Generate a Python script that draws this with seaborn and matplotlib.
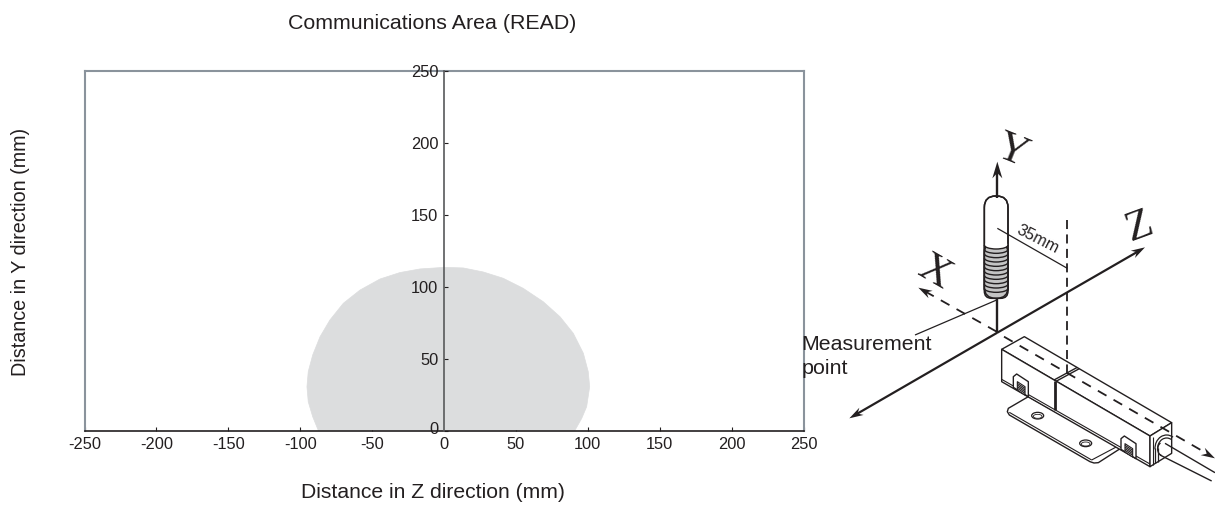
import math
import matplotlib
matplotlib.use("Agg")
import matplotlib.pyplot as plt
from matplotlib.patches import Polygon, Ellipse, FancyBboxPatch, Arc
from matplotlib.transforms import ScaledTranslation
import seaborn as sns
import pandas as pd

# communications area outline
area_z = [-87.4, -91.3, -94.4, -95.3, -94.4, -91.3, -86.2, -79.3, -70, -58.4, -44.5, -30.6, -16.7, 0,
          13.4, 27.3, 41.2, 55.1, 69, 80.7, 89.9, 96.9, 100.3, 101.3, 99.2, 95.8, 91]
area_y = [0, 9.6, 20, 30.5, 41, 52.6, 65.3, 77, 88.6, 97.8, 105.5, 110, 112.5, 113.6,
          113.2, 110.4, 106, 99, 89.7, 79.2, 67.7, 53.8, 41, 30.5, 16.6, 8.5, 0]
x_ticks = [-250, -200, -150, -100, -50, 0, 50, 100, 150, 200, 250]
y_ticks = [0, 50, 100, 150, 200, 250]

title = "Communications Area (READ)"
x_label = "Distance in Z direction (mm)"
y_label = "Distance in Y direction (mm)"

W, H = 1215, 511
FONT = 15.4
TICK_FONT = 11.8
DARK = "#231f20"
FRAME = "#8a939c"
FILL = "#dcddde"

sns.set_theme(style="white")
plt.rcParams['font.family'] = ['Liberation Sans', 'DejaVu Sans']

df = pd.DataFrame({'z': area_z, 'y': area_y})

fig = plt.figure(figsize=(W / 100, H / 100), dpi=100)
ax = fig.add_axes([84.5 / W, 1 - 430.5 / H, 719 / W, 359 / H])

ax.fill(df['z'], df['y'], color=FILL, lw=0)
sns.lineplot(data=df, x='z', y='y', sort=False, estimator=None, color=FILL, lw=0.5, ax=ax)
ax.set_xlim(-250, 250)
ax.set_ylim(0, 250)

for side in ['top', 'left', 'right']:
    ax.spines[side].set_color(FRAME)
    ax.spines[side].set_linewidth(1.5)
ax.spines['bottom'].set_color(DARK)
ax.spines['bottom'].set_linewidth(1.2)

ax.set_xticks(x_ticks)
ax.set_xticklabels([str(v) for v in x_ticks])
ax.set_yticks([])
ax.tick_params(axis='x', bottom=True, direction='in', length=3, width=0.8, color=DARK,
               labelsize=TICK_FONT, labelcolor=DARK, pad=5)

# y axis sits in the middle of the frame
center = ax.secondary_yaxis(0.5)
center.set_zorder(5)
center.yaxis.set_ticks_position('left')
center.yaxis.set_label_position('left')
center.set_yticks(y_ticks)
center.set_yticklabels([str(v) for v in y_ticks])
center.spines['left'].set_visible(True)
center.spines['right'].set_visible(False)
center.spines['left'].set_color("#58595b")
center.spines['left'].set_linewidth(1.2)
center.tick_params(axis='y', left=True, right=False, labelleft=True, labelright=False, direction='in',
                   length=3, width=0.8, color=DARK, labelsize=TICK_FONT, labelcolor=DARK, pad=4)
zero_label = center.get_yticklabels()[0]
zero_label.set_transform(zero_label.get_transform() + ScaledTranslation(0, 2 / 72, fig.dpi_scale_trans))

ax.set_xlabel(x_label, fontsize=15.2, color=DARK, va='center')
ax.xaxis.set_label_coords((432.5 - 84.5) / 719, -(492.5 - 430.5) / 359, transform=ax.transAxes)
ax.set_ylabel(y_label, fontsize=14.2, color=DARK, va='center')
ax.yaxis.set_label_coords(-(84.5 - 21) / 719, (430.5 - 251.5) / 359, transform=ax.transAxes)
fig.text(432 / W, 1 - 23 / H, title, fontsize=FONT, color=DARK, ha='center', va='center')

# sketch of the sensor on the right, in its own overlay axes
sk = fig.add_axes([800 / W, 0, 415 / W, 391 / H], facecolor='none')
sk.set_xlim(0, 1245)
sk.set_ylim(1173, 0)
sk.axis('off')


def line(xs, ys, lw=1.0, ls='-', z=3):
    sk.plot(xs, ys, color=DARK, lw=lw, ls=ls, zorder=z, solid_capstyle='butt', dash_capstyle='butt')


def head(x0, y0, x1, y1, size=38):
    # swept back arrow head at (x1, y1), coming from (x0, y0)
    a = math.atan2(y1 - y0, x1 - x0)
    ux, uy = math.cos(a), math.sin(a)
    px, py = -uy, ux
    pts = [(x1, y1),
           (x1 - size * ux + 0.3 * size * px, y1 - size * uy + 0.3 * size * py),
           (x1 - 0.68 * size * ux, y1 - 0.68 * size * uy),
           (x1 - size * ux - 0.3 * size * px, y1 - size * uy - 0.3 * size * py)]
    sk.add_patch(Polygon(pts, fc=DARK, ec='none', zorder=7))


def shape(pts, lw=1.0, fc='white', z=2):
    sk.add_patch(Polygon(pts, fc=fc, ec=DARK, lw=lw, zorder=z, joinstyle='round'))


# mounting plate
shape([(685, 830), (625, 865), (622, 875), (628, 885), (870, 1025), (882, 1029), (895, 1028), (962, 985)], z=1)
line([628, 875], [877, 1020], lw=0.8, z=1)
line([875, 960], [1020, 975], lw=0.8, z=1)
for hx, hy in [(713, 887), (857, 970)]:
    sk.add_patch(Ellipse((hx, hy), 36, 20, fc='white', ec=DARK, lw=0.9, zorder=2))
    sk.add_patch(Ellipse((hx, hy + 2), 26, 12, fc='white', ec=DARK, lw=0.6, zorder=2))

# device body
shape([(605, 688), (673, 650), (1115, 908), (1050, 948)])
shape([(605, 688), (605, 785), (1050, 1040), (1050, 948)])
shape([(1050, 948), (1115, 908), (1115, 1000), (1050, 1040)])
line([605, 1050], [778, 1032], lw=0.8)
line([762, 832], [780, 742], lw=1.0)
line([768, 838], [784, 746], lw=1.0)
line([765, 765], [782, 870], lw=2.0)
line([1058, 1058], [952, 1036], lw=0.8)

# clips on the front face
for dx, dy in [(0, 0), (323, 186)]:
    shape([(640 + dx, 770 + dy), (650 + dx, 762 + dy), (685 + dx, 785 + dy), (685 + dx, 830 + dy), (640 + dx, 802 + dy)], z=3)
    shape([(652 + dx, 785 + dy), (675 + dx, 800 + dy), (675 + dx, 825 + dy), (652 + dx, 810 + dy)], lw=0.8, z=3)
    for i in range(1, 5):
        line([652 + dx, 675 + dx], [785 + dy + i * 5, 800 + dy + i * 5], lw=0.8, z=3)

# cable and its gland
sk.add_patch(Arc((1100, 985), 70, 80, theta1=175, theta2=300, color=DARK, lw=0.9, zorder=3))
sk.add_patch(Arc((1100, 985), 54, 62, theta1=175, theta2=300, color=DARK, lw=0.9, zorder=3))
line([1065, 1065], [985, 1030], lw=0.9)
line([1073, 1073], [985, 1025], lw=0.9)
line([1095, 1245], [970, 1058], lw=1.0, z=4)
line([1080, 1235], [1005, 1083], lw=1.0, z=4)
sk.add_patch(Arc((1088, 987), 30, 40, theta1=100, theta2=250, color=DARK, lw=1.0, zorder=4))

# axes of the sketch
line([592, 592], [640, 538], lw=1.7)
line([592, 592], [235, 150], lw=1.7, z=6)
head(592, 235, 592, 125, size=50)
line([592, 165], [638, 885], lw=1.6)
head(592, 638, 148, 895, size=42)
line([592, 1020], [638, 391], lw=1.6)
head(592, 638, 1035, 382, size=42)
line([590, 375], [635, 514], lw=1.3, ls=(0, (5.5, 4.5)))
head(590, 635, 355, 503, size=42)
line([612, 1225], [650, 1003], lw=1.3, ls=(0, (5.5, 4.5)), z=4)
head(1120, 945, 1245, 1015, size=42)
line([802, 802], [300, 762], lw=1.3, ls=(0, (5, 3)), z=4)

# coil sensor
sk.add_patch(FancyBboxPatch((553, 228), 71, 307, boxstyle="round,pad=0,rounding_size=34", fc='white', ec=DARK,
                            lw=1.1, zorder=4))
sk.add_patch(FancyBboxPatch((553, 375), 71, 160, boxstyle="round,pad=0,rounding_size=22", fc='#c4c4c4', ec=DARK,
                            lw=1.1, zorder=4))
sk.add_patch(Ellipse((588.5, 375), 71, 24, fc='white', ec='none', zorder=4))
sk.add_patch(FancyBboxPatch((553, 228), 71, 307, boxstyle="round,pad=0,rounding_size=34", fc='none', ec=DARK,
                            lw=1.1, zorder=4))
for i in range(11):
    yy = 375 + i * 13
    sk.add_patch(Arc((588.5, yy), 71, 24, theta1=0, theta2=180, color=DARK, lw=1.0, zorder=5))

# leaders and labels
line([592, 802], [325, 445], lw=0.9, z=5)
line([345, 590], [645, 540], lw=0.9, z=5)
sk.text(712, 358, "35mm", fontsize=TICK_FONT, color=DARK, rotation=-27, ha='center', va='center', zorder=6)
sk.text(5, 675, "Measurement", fontsize=FONT, color=DARK, ha='left', va='center')
sk.text(5, 745, "point", fontsize=FONT, color=DARK, ha='left', va='center')
for letter, lx, ly, rot in [("X", 405, 460, -30), ("Y", 635, 95, -22), ("Z", 1020, 320, 20)]:
    sk.text(lx, ly, letter, fontsize=31, family=['Liberation Serif'], color=DARK, rotation=rot,
            ha='center', va='center')

fig.savefig("out.png", dpi=100)
